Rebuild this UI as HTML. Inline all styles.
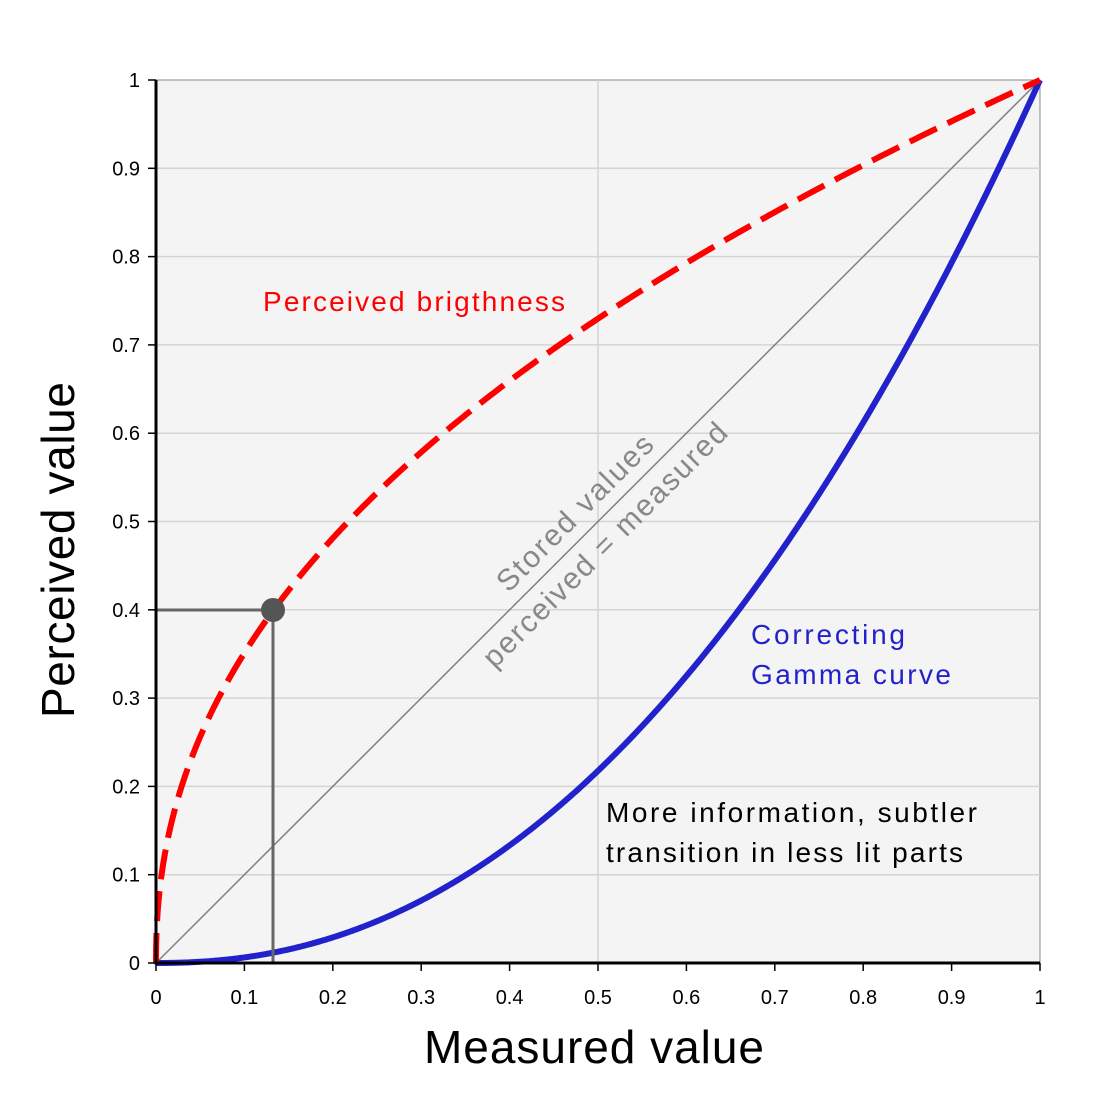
<!DOCTYPE html>
<html><head><meta charset="utf-8"><style>html,body{margin:0;padding:0;background:#fff}svg{display:block}</style></head>
<body>
<svg width="1120" height="1120" viewBox="0 0 1120 1120" xmlns="http://www.w3.org/2000/svg" font-family="Liberation Sans, sans-serif">
<rect x="156" y="80" width="884" height="883" fill="#f4f4f4" stroke="#888" stroke-width="1"/>
<g id="grid" stroke="#d4d4d4" stroke-width="1.5"></g>
<line x1="598" y1="80" x2="598" y2="963" stroke="#d4d4d4" stroke-width="1.5"/>
<line x1="156" y1="963" x2="1040" y2="80" stroke="#808080" stroke-width="1.5"/>
<path id="blue" fill="none" stroke="#2222cc" stroke-width="6"/>
<path id="red" fill="none" stroke="#ff0000" stroke-width="6" stroke-dasharray="30 12"/>
<polyline points="156,610 273,610 273,963" fill="none" stroke="#666" stroke-width="3"/>
<circle cx="273" cy="610" r="12" fill="#555"/>
<line x1="156" y1="80" x2="156" y2="964.5" stroke="#000" stroke-width="3"/>
<line x1="154.5" y1="963" x2="1040" y2="963" stroke="#000" stroke-width="3"/>
<g id="ticks" stroke="#000" stroke-width="1.5"></g>
<g id="labels" font-size="20" fill="#000"></g>
<text x="263" y="311" font-size="28" fill="#ff0000" textLength="302">Perceived brigthness</text>
<text x="751" y="644" font-size="28" fill="#2222cc" textLength="154">Correcting</text>
<text x="751" y="684" font-size="28" fill="#2222cc" textLength="200">Gamma curve</text>
<text x="606" y="822" font-size="28" fill="#000" textLength="371">More information, subtler</text>
<text x="606" y="862" font-size="28" fill="#000" textLength="357">transition in less lit parts</text>
<text x="582" y="520" font-size="30" fill="#888" text-anchor="middle" textLength="208" transform="rotate(-45 582 520)">Stored values</text>
<text x="612" y="552" font-size="30" fill="#888" text-anchor="middle" textLength="332" transform="rotate(-45 612 552)">perceived = measured</text>
<text x="594" y="1063" font-size="46" fill="#000" text-anchor="middle" textLength="340">Measured value</text>
<text x="74" y="550" font-size="46" fill="#000" text-anchor="middle" textLength="336" transform="rotate(-90 74 550)">Perceived value</text>
</svg>
<script>
var ns="http://www.w3.org/2000/svg";
function X(v){return 156+884*v}function Y(v){return 963-883*v}
var g=document.getElementById('grid'),t=document.getElementById('ticks'),l=document.getElementById('labels');
function mk(p,tag,a,txt){var e=document.createElementNS(ns,tag);for(var k in a)e.setAttribute(k,a[k]);if(txt!==undefined)e.textContent=txt;p.appendChild(e);}
for(var i=0;i<=10;i++){var v=i/10,lab=i==0?"0":i==10?"1":"0."+i;
 if(i>0&&i<10)mk(g,'line',{x1:156,x2:1040,y1:Y(v),y2:Y(v)});
 mk(t,'line',{x1:148,x2:156,y1:Y(v),y2:Y(v)});
 mk(t,'line',{x1:X(v),x2:X(v),y1:963,y2:971});
 mk(l,'text',{x:140,y:Y(v)+7,'text-anchor':'end'},lab);
 mk(l,'text',{x:X(v),y:1004,'text-anchor':'middle'},lab);}
var r="",b="";
for(var i=0;i<=400;i++){var x=Math.pow(i/400,2);var xx=i/400;
 r+=(i?"L":"M")+X(x).toFixed(2)+","+Y(Math.pow(x,1/2.2)).toFixed(2);
 b+=(i?"L":"M")+X(xx).toFixed(2)+","+Y(Math.pow(xx,2.2)).toFixed(2);}
document.getElementById('red').setAttribute('d',r);
document.getElementById('blue').setAttribute('d',b);
</script>
</body></html>
